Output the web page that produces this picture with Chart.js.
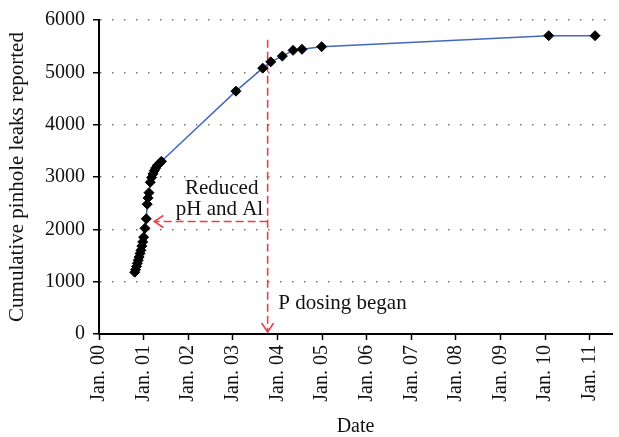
<!DOCTYPE html>
<html>
<head>
<meta charset="utf-8">
<script src="https://cdn.jsdelivr.net/npm/chart.js@4"></script>
<style>
  html, body { margin: 0; padding: 0; background: #fff; }
  #wrap { width: 619px; height: 437px; }
</style>
</head>
<body>
<div id="wrap"><canvas id="leak-chart"></canvas></div>
<script>
// years since Jan. 2000
var years = [0.80, 0.82, 0.84, 0.86, 0.88, 0.90, 0.92, 0.94, 0.96, 0.98, 1.00,
  1.03, 1.06, 1.08, 1.10, 1.12, 1.15, 1.18, 1.21, 1.24, 1.27, 1.30, 1.33, 1.37, 1.40,
  3.07, 3.67, 3.85, 4.11, 4.35, 4.55, 4.99, 10.08, 11.12];
var leaks = [1180, 1230, 1290, 1350, 1410, 1470, 1540, 1600, 1680, 1760, 1850,
  2020, 2200, 2480, 2600, 2700, 2900, 2990, 3060, 3120, 3170, 3210, 3240, 3270, 3300,
  4640, 5080, 5200, 5310, 5420, 5440, 5490, 5700, 5700];
var yearLabels = ['Jan. 00', 'Jan. 01', 'Jan. 02', 'Jan. 03', 'Jan. 04', 'Jan. 05',
  'Jan. 06', 'Jan. 07', 'Jan. 08', 'Jan. 09', 'Jan. 10', 'Jan. 11'];

var dosingYear = 3.78;
var dosingTop = 5625;
var reducedLevel = 2150;
var reducedArrowEnd = 1.24;

var serif = '"Liberation Serif", "DejaVu Serif", serif';

var points = years.map(function (y, i) { return { x: y, y: leaks[i] }; });

var notes = {
  id: 'notes',
  beforeDatasetsDraw: function (chart) {
    var ctx = chart.ctx, xs = chart.scales.x, ys = chart.scales.y;
    var vx = xs.getPixelForValue(dosingYear);
    var vTop = ys.getPixelForValue(dosingTop);
    var vBot = ys.getPixelForValue(0) - 2;
    var hy = ys.getPixelForValue(reducedLevel);
    var hx = xs.getPixelForValue(reducedArrowEnd);
    ctx.save();
    ctx.strokeStyle = '#e8414c';
    ctx.lineWidth = 1.6;
    ctx.setLineDash([8, 4]);
    ctx.beginPath();
    ctx.moveTo(vx, vTop); ctx.lineTo(vx, vBot);
    ctx.moveTo(vx, hy); ctx.lineTo(hx, hy);
    ctx.stroke();
    ctx.setLineDash([]);
    ctx.beginPath();
    ctx.moveTo(vx - 6, vBot - 9); ctx.lineTo(vx, vBot); ctx.lineTo(vx + 6, vBot - 9);
    ctx.moveTo(hx + 9, hy - 6); ctx.lineTo(hx, hy); ctx.lineTo(hx + 9, hy + 6);
    ctx.stroke();

    ctx.fillStyle = '#111';
    ctx.font = '21px ' + serif;
    ctx.textBaseline = 'middle';
    ctx.textAlign = 'center';
    ctx.fillText('Reduced', xs.getPixelForValue(2.75), ys.getPixelForValue(2790));
    ctx.fillText('pH and Al', xs.getPixelForValue(2.70), ys.getPixelForValue(2380));
    ctx.textAlign = 'left';
    ctx.fillText('P dosing began', xs.getPixelForValue(4.02), ys.getPixelForValue(580));
    ctx.restore();
  }
};

new Chart(document.getElementById('leak-chart'), {
  type: 'line',
  data: {
    datasets: [{
      data: points,
      borderColor: '#4468c0',
      borderWidth: 1.5,
      tension: 0,
      pointStyle: 'rectRot',
      pointRadius: 5,
      pointBackgroundColor: '#000',
      pointBorderColor: '#000',
      pointBorderWidth: 1
    }]
  },
  options: {
    responsive: true,
    maintainAspectRatio: false,
    animation: false,
    layout: { padding: { top: 14, right: 6 } },
    plugins: { legend: { display: false }, tooltip: { enabled: false } },
    scales: {
      x: {
        type: 'linear',
        min: 0,
        max: 11.5,
        afterFit: function (s) { s.height = 103; },
        afterBuildTicks: function (s) {
          s.ticks = yearLabels.map(function (l, i) { return { value: i }; });
        },
        ticks: {
          autoSkip: false,
          minRotation: 90,
          maxRotation: 90,
          padding: 5,
          color: '#111',
          font: { family: serif, size: 20 },
          callback: function (v) { return yearLabels[v]; }
        },
        grid: {
          drawOnChartArea: false,
          drawTicks: true,
          tickLength: 6,
          tickColor: '#000',
          tickWidth: 1.5
        },
        border: { display: true, color: '#000', width: 2 },
        title: {
          display: true,
          text: 'Date',
          color: '#111',
          font: { family: serif, size: 20, lineHeight: 1 },
          padding: { top: 0, bottom: 0 }
        }
      },
      y: {
        min: 0,
        max: 6000,
        afterFit: function (s) { s.width = 99; },
        ticks: {
          stepSize: 1000,
          padding: 8,
          color: '#111',
          font: { family: serif, size: 20 },
          callback: function (v) { return String(v); }
        },
        grid: {
          color: '#777',
          lineWidth: 1.5,
          tickLength: 6,
          tickColor: '#000',
          tickWidth: 1.5,
          tickBorderDash: []
        },
        border: { display: true, color: '#000', width: 2, dash: [1.5, 10.5] },
        title: {
          display: true,
          text: 'Cumulative pinhole leaks reported',
          color: '#111',
          font: { family: serif, size: 21 },
          padding: { top: 5, bottom: 0 }
        }
      }
    }
  },
  plugins: [notes]
});
</script>
</body>
</html>
